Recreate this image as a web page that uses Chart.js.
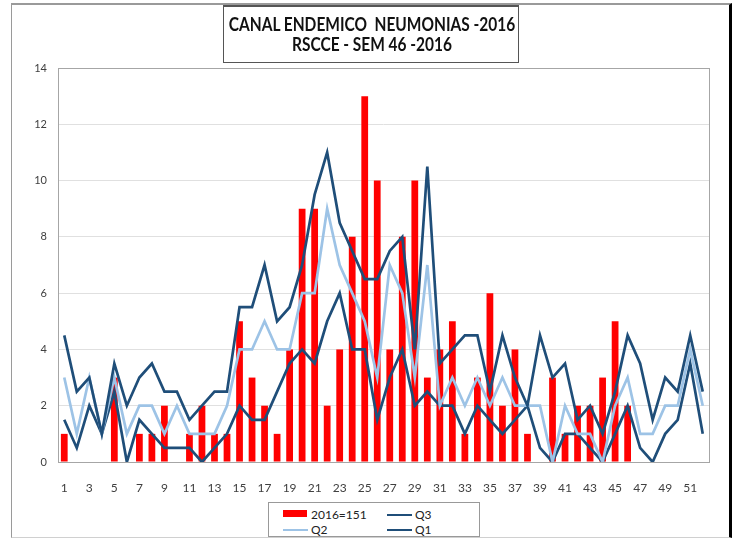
<!DOCTYPE html>
<html>
<head>
<meta charset="utf-8">
<script src="https://cdn.jsdelivr.net/npm/chart.js@4.4.0/dist/chart.umd.min.js"></script>
<style>
  body { margin: 0; background: #fff; }
  #wrap { position: relative; width: 741px; height: 542px; overflow: hidden; }
  #frame { position: absolute; left: 11px; top: 3px; width: 717px; height: 532px;
    border-left: 1px solid #9a9a9a; border-top: 2px solid #9a9a9a; border-bottom: 1px solid #d0d0d0; border-right: 3px solid #000; }
  #title { position: absolute; left: 223px; top: 5px; width: 296px; height: 58px; border: 1px solid #555; border-top-width: 2px;
    background: #fff; box-sizing: border-box; }
  .tl { position: absolute; left: -30px; width: 356px; text-align: center; white-space: nowrap;
    font-family: 'Lato', sans-serif; font-weight: bold; font-size: 18px; color: #111; line-height: 20px;
    transform: scaleX(0.86); transform-origin: center; }
  #legend { position: absolute; left: 268px; top: 502px; width: 210px; height: 33px; border: 1px solid #999;
    font-family: 'Lato', sans-serif; font-size: 12px; color: #222; background: #fff; }
  .item { position: absolute; height: 14px; line-height: 14px; }
  .sw { position: absolute; left: 0; }
  .lb { position: absolute; left: 28px; top: 0; white-space: nowrap; }
  canvas { position: absolute; left: 0; top: 0; }
</style>
</head>
<body>
<div id="wrap">
  <div id="frame"></div>
  <canvas id="myChart" width="741" height="542"></canvas>
  <div id="title">
    <div class="tl" style="top:7px">CANAL ENDEMICO&nbsp; NEUMONIAS -2016</div>
    <div class="tl" style="top:27px">RSCCE - SEM 46 -2016</div>
  </div>
  <div id="legend"></div>
</div>
<script>
const weeks = ['1','2','3','4','5','6','7','8','9','10','11','12','13','14','15','16','17','18','19','20',
  '21','22','23','24','25','26','27','28','29','30','31','32','33','34','35','36','37','38','39','40',
  '41','42','43','44','45','46','47','48','49','50','51','52'];

// casos 2016 (hasta sem 46)
const cases2016 = [1,0,0,0,3,0,1,1,2,0,1,2,1,1,5,3,2,1,4,9,9,2,4,8,13,10,4,8,10,3,4,5,1,3,6,2,4,1,0,3,1,2,2,3,5,2];

const q3 = [4.5,2.5,3,1,3.5,2,3,3.5,2.5,2.5,1.5,2,2.5,2.5,5.5,5.5,7,5,5.5,7,
  9.5,11,8.5,7.5,6.5,6.5,7.5,8,4,10.5,3.5,4,4.5,4.5,2.5,4.5,3,2,4.5,3,
  3.5,1.5,2,1,2.5,4.5,3.5,1.5,3,2.5,4.5,2.5];
const q2 = [3,1,3,1,3,1,2,2,1,2,1,1,1,2,4,4,5,4,4,6,
  6,9,7,6,5,3,7,6,3,7,2,3,2,3,2,3,2,2,2,0,
  2,1,1,0,2,3,1,1,2,2,4,2];
const q1 = [1.5,0.5,2,1,2.5,0,1.5,1,0.5,0.5,0.5,0,0.5,1,2,1.5,1.5,2.5,3.5,4,
  3.5,5,6,4,4,1.5,3,4,2,2.5,2,2,1,2,1.5,1,1.5,2,0.5,0,
  1,1,0.5,0,1,2,0.5,0,1,1.5,3.5,1];

const yTicks = [0,2,4,6,8,10,12,14];

const darkBlue = '#1f4e79';
const lightBlue = '#9dc3e6';

// borde gris del area de grafico
const plotBorder = {
  id: 'plotBorder',
  beforeDatasetsDraw(chart) {
    const { ctx, chartArea: a } = chart;
    ctx.save();
    ctx.strokeStyle = '#a6a6a6';
    ctx.lineWidth = 1;
    ctx.strokeRect(Math.round(a.left) + 0.5, Math.round(a.top) + 0.5, Math.round(a.right - a.left), Math.round(a.bottom - a.top));
    ctx.restore();
  }
};

const ctx = document.getElementById('myChart');
const chart = new Chart(ctx, {
  data: {
    labels: weeks,
    datasets: [
      { type: 'bar', label: '2016=151', data: cases2016, backgroundColor: '#ff0000',
        barPercentage: 0.9, categoryPercentage: 0.6, order: 2 },
      { type: 'line', label: 'Q3', data: q3, borderColor: darkBlue, borderWidth: 2.7, pointRadius: 0, tension: 0, order: 1 },
      { type: 'line', label: 'Q2', data: q2, borderColor: lightBlue, borderWidth: 2.7, pointRadius: 0, tension: 0, order: 1 },
      { type: 'line', label: 'Q1', data: q1, borderColor: darkBlue, borderWidth: 2.7, pointRadius: 0, tension: 0, order: 1 }
    ]
  },
  options: {
    responsive: false,
    animation: false,
    layout: { padding: { left: 0, right: 32, top: 68, bottom: 0 } },
    plugins: { legend: { display: false }, title: { display: false }, tooltip: { enabled: false } },
    scales: {
      x: {
        grid: { display: false, drawTicks: false },
        border: { display: false },
        ticks: {
          autoSkip: false, maxRotation: 0, padding: 19, color: '#404040',
          font: { family: 'Lato', size: 12 },
          callback: (v, i) => (i % 2 === 0 ? weeks[i] : '')
        },
        afterFit: (s) => { s.height = 80; }
      },
      y: {
        min: 0, max: 14,
        afterBuildTicks: (s) => { s.ticks = yTicks.map(v => ({ value: v })); },
        grid: { color: '#e0e0e0', drawTicks: false },
        border: { display: false },
        ticks: { padding: 11, color: '#404040', font: { family: 'Lato', size: 11 } },
        afterFit: (s) => { s.width = 58; }
      }
    }
  },
  plugins: [plotBorder]
});

// leyenda en 2 columnas
const legendPos = [[14, 5], [118, 5], [14, 20], [118, 20]];
const legendEl = document.getElementById('legend');
chart.data.datasets.forEach((ds, i) => {
  const it = document.createElement('div');
  it.className = 'item';
  it.style.left = legendPos[i][0] + 'px';
  it.style.top = legendPos[i][1] + 'px';
  const sw = document.createElement('div');
  sw.className = 'sw';
  if (ds.type === 'bar') {
    sw.style.cssText = 'left:0;top:2px;width:24px;height:7px;background:' + ds.backgroundColor;
  } else {
    sw.style.cssText = 'left:0;top:6px;width:25px;height:2px;background:' + ds.borderColor;
  }
  const lb = document.createElement('span');
  lb.className = 'lb';
  lb.textContent = ds.label;
  it.appendChild(sw);
  it.appendChild(lb);
  legendEl.appendChild(it);
});
</script>
</body>
</html>
